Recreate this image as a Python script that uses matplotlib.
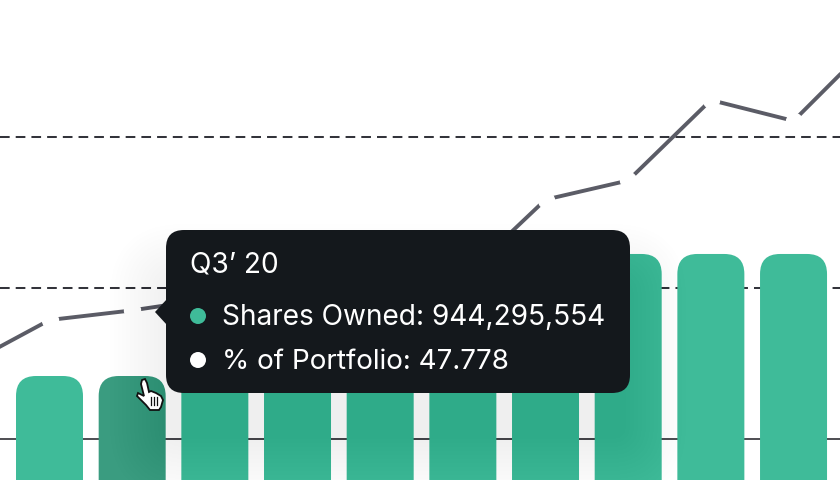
import numpy as np
import matplotlib
matplotlib.use("Agg")
import matplotlib.pyplot as plt
from matplotlib.patches import FancyBboxPatch, Polygon, Circle
from matplotlib.transforms import IdentityTransform

# Data (quarters beyond the frame are partly estimated; hidden ones sit behind the tooltip)
quarters = ["Q1' 20", "Q2' 20", "Q3' 20", "Q4' 20", "Q1' 21", "Q2' 21", "Q3' 21", "Q4' 21", "Q1' 22", "Q2' 22", "Q3' 22", "Q4' 22"]
shares_m = [np.nan, 944.3, 944.295554, 1260, 1260, 1260, 1260, 1260, 1260, 1260, 1260, np.nan]
pct = [42.4, 46.82, 47.778, 49.0, 49.8, 50.5, 51.0, 58.78, 60.68, 68.67, 66.6, 74.8]
grid_pct = [35, 50, 65]
grid_styles = ["solid", "dashed", "dashed"]
title = "Q3’ 20"
row_labels = ["Shares Owned: 944,295,554", "% of Portfolio: 47.778"]
hover_index = 2

GREEN = "#3FBB99"
HOVER = "#3A9C80"
DARK = "#14181C"
W, H = 840, 480

fig = plt.figure(figsize=(8.4, 4.8), dpi=100, facecolor="white")
ax = fig.add_axes([0, 0, 1, 1])
ax.set_axis_off()
x = np.arange(len(quarters))
step = 82.67
x0 = 49.5 - step            # pixel centre of the first category
ax.set_xlim(-x0 / step, (W - x0) / step)
# px = 741 at 0 shares, 376 at 944.3M
m_per_px = 944.3 / 365
ax.set_ylim((741 - 480) * m_per_px, 741 * m_per_px)

ax2 = ax.twinx()
ax2.set_axis_off()
ax2.set_xlim(ax.get_xlim())
px_per_pct = 151 / 15
ax2.set_ylim(50 - (480 - 288) / px_per_pct, 50 + 288 / px_per_pct)
ax.set_zorder(1)
ax2.set_zorder(2)
ax2.patch.set_visible(False)

# Grid
for v, s in zip(grid_pct, grid_styles):
    if s == "solid":
        ax2.axhline(v, color="#26262c", lw=1.15, zorder=0)
    else:
        ax2.axhline(v, color="#33343b", lw=1.45, dashes=(4.8, 3.0), zorder=0)

# Bars with rounded tops, placed through the axis scales
bar_w = 67
r = 20
for i, (xi, v) in enumerate(zip(x, shares_m)):
    if np.isnan(v):
        continue
    cx, top = ax.transData.transform((xi, v))
    c = HOVER if i == hover_index else GREEN
    p = FancyBboxPatch((cx - bar_w / 2 + r, -100), bar_w - 2 * r, top + 100 - r,
                       boxstyle=f"round,pad={r},rounding_size={r}",
                       fc=c, ec="none", transform=IdentityTransform(), zorder=1)
    ax2.add_patch(p)

# Line with white markers that cut gaps in it
ax2.plot(x, pct, color="#5B5C66", lw=2.8, zorder=3, solid_capstyle="butt")
ax2.plot(x, pct, ls="none", marker="o", ms=11.5, mfc="white", mec="white", zorder=4)

def px(xp, yp):
    return (xp, H - yp)

# Tooltip soft shadow, sitting lower than the box
tx0, ty0, tx1, ty1 = 166, 230, 630, 393
off = 50
inset = 8
for grow in range(64, 0, -4):
    ax2.add_patch(FancyBboxPatch(px(tx0 + inset, ty1 + off - inset), tx1 - tx0 - 2 * inset, ty1 - ty0 - 2 * inset,
                                 boxstyle=f"round,pad={grow},rounding_size={grow + 10}",
                                 fc="black", ec="none", alpha=0.0042,
                                 transform=IdentityTransform(), zorder=5))

# Tooltip
ax2.add_patch(FancyBboxPatch(px(tx0 + 18, ty1 - 18), tx1 - tx0 - 36, ty1 - ty0 - 36,
                             boxstyle="round,pad=18,rounding_size=18", fc=DARK, ec="none",
                             transform=IdentityTransform(), zorder=6))
ax2.add_patch(Polygon([px(167, 299), px(155, 312), px(167, 325)], closed=True, fc=DARK, ec="none",
                      transform=IdentityTransform(), zorder=6))

font = ["Inter", "DejaVu Sans"]
def T(xp, yp, s, size):
    fig.text(xp / W, 1 - yp / H, s, color="white", fontsize=size, family=font, va="center", ha="left", zorder=8)

T(190, 265.5, title, 20.2)
T(222, 318, row_labels[0], 20.2)
T(222, 362, row_labels[1], 20.0)

ax2.add_patch(Circle(px(198, 316), 8, fc=GREEN, ec="none", transform=IdentityTransform(), zorder=7))
ax2.add_patch(Circle(px(198, 360), 8, fc="white", ec="none", transform=IdentityTransform(), zorder=7))

# Hand cursor
hand = [(142, 380), (145, 379), (147, 383), (149, 392), (151, 391), (156, 393), (161, 396), (163, 400),
        (161, 407), (159, 410), (150, 410), (146, 405), (137, 396), (138, 393), (144, 396), (141, 384)]
ax2.add_patch(Polygon([px(a, b) for a, b in hand], closed=True, fc="white", ec="#111111", lw=1.3,
                      transform=IdentityTransform(), zorder=9))
for xa in (150.5, 153.5, 156.5):
    ax2.plot(*zip(*ax2.transData.inverted().transform([px(xa, 397), px(xa, 405)])), color="#111111", lw=0.9, zorder=10)

fig.savefig("out.png", dpi=100)
